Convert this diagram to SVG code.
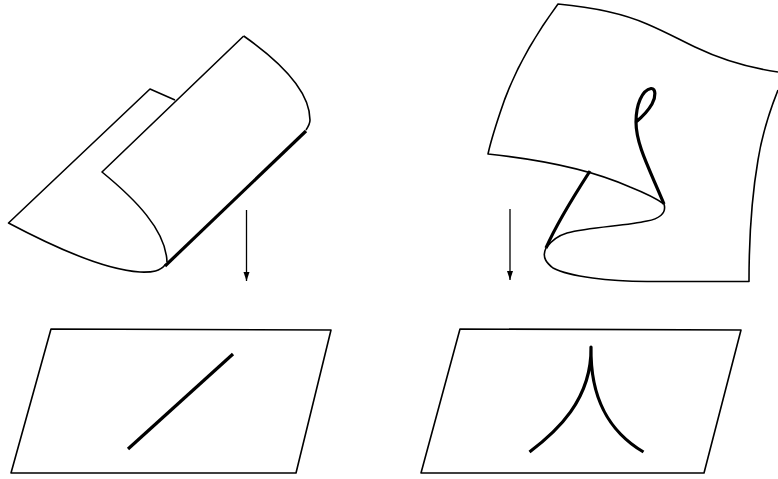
<svg xmlns="http://www.w3.org/2000/svg" width="778" height="479" viewBox="0 0 778 479">
<style>
.t{fill:none;stroke:#000;stroke-width:1.6;stroke-linejoin:round}
.b{fill:none;stroke:#000;stroke-width:3.2;stroke-linecap:butt;stroke-linejoin:round}
.a{fill:none;stroke:#000;stroke-width:1.3}
</style>
<defs><marker id="h" markerUnits="userSpaceOnUse" markerWidth="6" markerHeight="9" refX="3" refY="9" orient="0" overflow="visible"><path d="M0 0L6 0L3 9Z" fill="#000"/></marker></defs>
<rect width="778" height="479" fill="#fff"/>
<g id="fold-surface">
<path class="t" d="M175 100L150 89L8.500 223C50 245 105 270 140 272C153 272.500 160 271 165 265"/>
<path class="t" d="M243.700 36L102 172C135 199 166 230 167 262"/>
<path class="t" d="M243.700 36C275 58 310 88 310 120C310 124 308 127 306 130"/>
<path class="b" d="M306 131L165 266"/>
</g>
<g id="cusp-surface">
<path class="t" d="M778 72C750 68 720 59 695 47C680 40 668 33 647 24C622 13 590 7 558 4C530 42 512 75 500 113C495 128 491 140 488 154C545 160 592 170 630 187C645 193 657 199 664 204C667 214 658 219 647 221C625 226 590 227 567 233C557 236 551 241 546 248C541 258 548 264 553 268C570 277 610 281 647 281.500L749 281.500C749 235 752 195 758 160C762 135 770 110 778 90"/>
<path class="b" d="M590 171C570 202 556 225 546 248"/>
<path class="b" d="M664 204C650 170 636 145 636 122C636 105 642 90 651 88.500C656 88 656 97 652 104C648 111 642 117 636 122"/>
</g>
<g id="fold-plane">
<path class="t" d="M51 329L331 330L296 473L11 473Z"/>
<path class="b" d="M128 449L233 354"/>
</g>
<g id="cusp-plane">
<path class="t" d="M460 329L741 330L704 473L421 473Z"/>
<path class="b" d="M529.500 452C556 432 592 400 591 347C590 400 610 432 643.500 452"/>
</g>
<g id="connectors">
<path class="a" d="M246.500 210V281" marker-end="url(#h)"/>
<path class="a" d="M510 209V280" marker-end="url(#h)"/>
</g>
</svg>
